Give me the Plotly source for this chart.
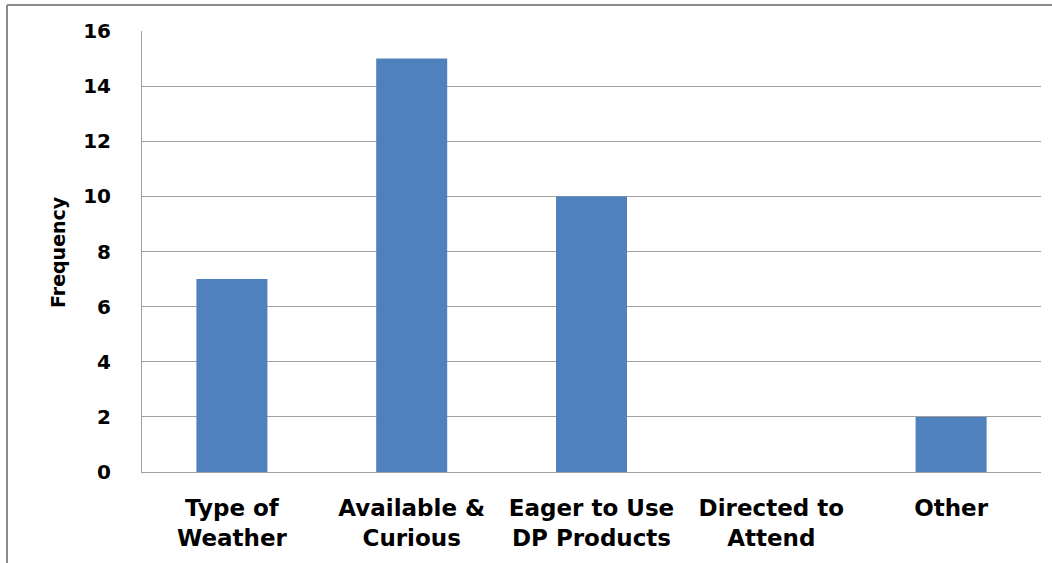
import plotly.graph_objects as go

# Survey responses: reason for attending
categories = ["Type of Weather", "Available & Curious", "Eager to Use DP Products",
              "Directed to Attend", "Other"]
tick_labels = ["Type of<br>Weather", "Available &<br>Curious", "Eager to Use<br>DP Products",
               "Directed to<br>Attend", "Other"]
frequency = [7, 15, 10, 0, 2]
y_ticks = [0, 2, 4, 6, 8, 10, 12, 14, 16]

W, H = 1052, 563
L, R, T, B = 142, 11, 31, 91
pw, ph = W - L - R, H - T - B

BOLD = "DejaVu Sans"
fig = go.Figure(
    go.Bar(
        x=categories,
        y=frequency,
        marker=dict(color="#4F81BD", line=dict(width=0)),
        width=0.395,
    )
)

def px_x(p):
    return (p - L) / pw

def px_y(p):
    return (H - B - p) / ph

fig.update_layout(
    width=W,
    height=H,
    margin=dict(l=L, r=R, t=T, b=B),
    paper_bgcolor="white",
    plot_bgcolor="white",
    showlegend=False,
    bargap=0.6,
    xaxis=dict(
        tickmode="array",
        tickvals=categories,
        ticktext=[f"<b>{t}</b>" for t in tick_labels],
        tickfont=dict(family=BOLD, size=23, color="#000000"),
        showline=True,
        linecolor="#A0A0A0",
        linewidth=1,
        showgrid=False,
        ticks="",
        ticklabelstandoff=15,
    ),
    yaxis=dict(
        range=[0, 16],
        tickvals=y_ticks,
        ticktext=[f"<b>{v}</b>" for v in y_ticks],
        tickfont=dict(family=BOLD, size=20, color="#000000"),
        showline=True,
        linecolor="#A0A0A0",
        linewidth=1,
        showgrid=True,
        gridcolor="#A0A0A0",
        gridwidth=1,
        zeroline=False,
        ticks="",
        ticklabelstandoff=26,
    ),
    annotations=[
        dict(
            text="<b>Frequency</b>",
            textangle=-90,
            xref="paper", yref="paper",
            x=px_x(58), y=px_y(252),
            xanchor="center", yanchor="middle",
            showarrow=False,
            font=dict(family=BOLD, size=19, color="#000000"),
        )
    ],
    shapes=[
        # chart frame
        dict(type="line", xref="paper", yref="paper",
             x0=px_x(7), x1=px_x(W + 5), y0=px_y(5), y1=px_y(5),
             line=dict(color="#8C8C8C", width=2)),
        dict(type="line", xref="paper", yref="paper",
             x0=px_x(7), x1=px_x(7), y0=px_y(5), y1=px_y(H + 5),
             line=dict(color="#8C8C8C", width=2)),
    ],
)

fig.write_html("out.html")
